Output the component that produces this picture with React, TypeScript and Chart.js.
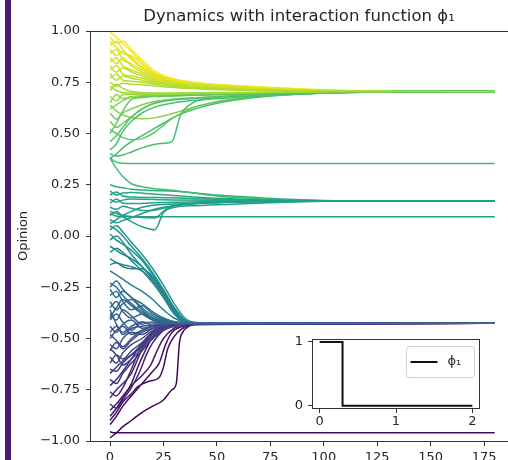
import React, { useEffect, useRef } from 'react';
import { Chart, registerables } from 'chart.js';

Chart.register(...registerables);

type Pt = [number, number];

const TITLE = 'Dynamics with interaction function ϕ₁';
const Y_LABEL = 'Opinion';
const X_TICKS = [0, 25, 50, 75, 100, 125, 150, 175];
const Y_TICKS = [-1, -0.75, -0.5, -0.25, 0, 0.25, 0.5, 0.75, 1];

// Agents ending in the upper cluster (~0.705)
const HIGH_GROUP: Pt[][] = [
  [[0, 0.995], [3, 0.97], [6, 0.94], [10, 0.9], [15, 0.845], [20, 0.8], [25, 0.778], [30, 0.765], [40, 0.748], [65, 0.73], [100, 0.713], [140, 0.705], [180, 0.705]],
  [[0, 0.97], [3, 0.94], [6, 0.95], [10, 0.91], [15, 0.86], [20, 0.81], [25, 0.782], [30, 0.766], [40, 0.747], [65, 0.729], [100, 0.712], [140, 0.705], [180, 0.705]],
  [[0, 0.95], [3, 0.92], [6, 0.89], [10, 0.88], [15, 0.84], [20, 0.795], [25, 0.774], [30, 0.76], [40, 0.745], [65, 0.727], [100, 0.711], [140, 0.705], [180, 0.705]],
  [[0, 0.93], [3, 0.95], [6, 0.91], [10, 0.86], [15, 0.82], [20, 0.785], [25, 0.768], [30, 0.756], [40, 0.742], [65, 0.725], [100, 0.71], [140, 0.705], [180, 0.705]],
  [[0, 0.91], [3, 0.88], [6, 0.9], [10, 0.87], [15, 0.825], [20, 0.79], [25, 0.77], [30, 0.757], [40, 0.741], [65, 0.724], [100, 0.71], [140, 0.705], [180, 0.705]],
  [[0, 0.89], [3, 0.91], [6, 0.86], [10, 0.84], [15, 0.81], [20, 0.78], [25, 0.763], [30, 0.752], [40, 0.738], [65, 0.722], [100, 0.709], [140, 0.705], [180, 0.705]],
  [[0, 0.87], [3, 0.84], [6, 0.87], [10, 0.83], [15, 0.8], [20, 0.775], [25, 0.76], [30, 0.75], [40, 0.736], [65, 0.72], [100, 0.709], [140, 0.705], [180, 0.705]],
  [[0, 0.85], [3, 0.87], [6, 0.83], [10, 0.81], [15, 0.79], [20, 0.768], [25, 0.755], [30, 0.746], [40, 0.733], [65, 0.718], [100, 0.708], [140, 0.705], [180, 0.705]],
  [[0, 0.83], [3, 0.8], [6, 0.82], [10, 0.8], [15, 0.78], [20, 0.762], [25, 0.75], [30, 0.742], [40, 0.73], [65, 0.716], [100, 0.708], [140, 0.705], [180, 0.705]],
  [[0, 0.81], [3, 0.83], [6, 0.79], [10, 0.78], [15, 0.77], [20, 0.755], [25, 0.745], [30, 0.738], [40, 0.727], [65, 0.714], [100, 0.707], [140, 0.705], [180, 0.705]],
  [[0, 0.79], [3, 0.76], [6, 0.78], [10, 0.77], [15, 0.76], [20, 0.748], [25, 0.74], [30, 0.734], [40, 0.725], [65, 0.713], [100, 0.707], [140, 0.705], [180, 0.705]],
  [[0, 0.77], [3, 0.79], [6, 0.76], [10, 0.755], [15, 0.75], [20, 0.742], [25, 0.736], [30, 0.73], [40, 0.722], [65, 0.712], [100, 0.707], [140, 0.705], [180, 0.705]],
  [[0, 0.75], [3, 0.73], [6, 0.745], [10, 0.74], [15, 0.738], [20, 0.733], [25, 0.728], [30, 0.724], [40, 0.718], [65, 0.71], [100, 0.706], [140, 0.705], [180, 0.705]],
  [[0, 0.71], [3, 0.74], [6, 0.72], [10, 0.705], [20, 0.698], [40, 0.698], [65, 0.7], [100, 0.703], [140, 0.705], [180, 0.705]],
  [[0, 0.68], [3, 0.66], [6, 0.69], [10, 0.692], [20, 0.692], [40, 0.694], [65, 0.698], [100, 0.702], [140, 0.705], [180, 0.705]],
  [[0, 0.65], [3, 0.69], [6, 0.67], [10, 0.68], [20, 0.686], [40, 0.69], [65, 0.695], [100, 0.701], [140, 0.705], [180, 0.705]],
  [[0, 0.62], [3, 0.64], [6, 0.66], [10, 0.675], [20, 0.683], [40, 0.688], [65, 0.694], [100, 0.7], [140, 0.705], [180, 0.705]],
  [[0, 0.64], [3, 0.61], [6, 0.59], [10, 0.578], [15, 0.572], [20, 0.575], [25, 0.585], [30, 0.6], [40, 0.63], [50, 0.655], [65, 0.675], [80, 0.688], [100, 0.697], [140, 0.704], [180, 0.705]],
  [[0, 0.6], [3, 0.57], [6, 0.6], [10, 0.62], [15, 0.64], [20, 0.655], [30, 0.665], [40, 0.672], [65, 0.685], [100, 0.698], [140, 0.705], [180, 0.705]],
  [[0, 0.5], [3, 0.55], [6, 0.61], [10, 0.665], [15, 0.675], [20, 0.68], [40, 0.686], [65, 0.692], [100, 0.7], [140, 0.705], [180, 0.705]],
  [[0, 0.56], [3, 0.53], [6, 0.55], [10, 0.58], [15, 0.62], [20, 0.645], [25, 0.66], [30, 0.668], [40, 0.675], [65, 0.687], [100, 0.699], [140, 0.705], [180, 0.705]],
  [[0, 0.4], [3, 0.39], [6, 0.395], [10, 0.41], [15, 0.43], [20, 0.445], [25, 0.452], [29, 0.46], [33, 0.59], [38, 0.645], [45, 0.67], [65, 0.685], [100, 0.698], [140, 0.705], [180, 0.705]],
  [[0, 0.38], [3, 0.4], [6, 0.43], [10, 0.46], [15, 0.49], [20, 0.52], [25, 0.55], [30, 0.58], [40, 0.62], [50, 0.648], [65, 0.672], [80, 0.686], [100, 0.697], [140, 0.704], [180, 0.705]],
  [[0, 0.52], [3, 0.5], [6, 0.48], [10, 0.47], [15, 0.475], [20, 0.5], [25, 0.54], [30, 0.58], [40, 0.63], [50, 0.655], [65, 0.677], [100, 0.698], [140, 0.705], [180, 0.705]],
  [[0, 0.46], [3, 0.49], [6, 0.53], [10, 0.58], [15, 0.62], [20, 0.645], [25, 0.657], [30, 0.665], [40, 0.672], [65, 0.686], [100, 0.699], [140, 0.705], [180, 0.705]],
  [[0, 0.42], [3, 0.45], [6, 0.51], [10, 0.56], [15, 0.6], [20, 0.625], [25, 0.64], [30, 0.65], [40, 0.662], [65, 0.68], [100, 0.697], [140, 0.705], [180, 0.705]],
  [[0, 0.73], [3, 0.71], [6, 0.7], [10, 0.697], [20, 0.695], [40, 0.697], [65, 0.7], [100, 0.703], [140, 0.705], [180, 0.705]],
];

// Lone agents that stay apart
const LONE_LINES: Pt[][] = [
  [[0, 0.38], [2, 0.365], [5, 0.356], [10, 0.354], [180, 0.354]],
  [[0, 0.11], [2, 0.1], [5, 0.095], [10, 0.094], [180, 0.094]],
  [[0, -0.955], [2, -0.96], [180, -0.96]],
];

// Agents ending in the middle cluster (~0.171)
const MID_GROUP: Pt[][] = [
  [[0, 0.25], [3, 0.24], [6, 0.235], [10, 0.228], [20, 0.222], [30, 0.218], [40, 0.21], [50, 0.2], [65, 0.19], [80, 0.18], [100, 0.173], [130, 0.171], [180, 0.171]],
  [[0, 0.38], [3, 0.33], [6, 0.29], [10, 0.255], [15, 0.24], [20, 0.232], [30, 0.222], [40, 0.208], [50, 0.195], [65, 0.184], [80, 0.176], [100, 0.172], [130, 0.171], [180, 0.171]],
  [[0, 0.22], [3, 0.2], [6, 0.21], [10, 0.212], [20, 0.205], [30, 0.198], [40, 0.19], [50, 0.184], [65, 0.178], [80, 0.174], [100, 0.172], [180, 0.171]],
  [[0, 0.2], [3, 0.215], [6, 0.195], [10, 0.19], [20, 0.188], [30, 0.186], [40, 0.182], [65, 0.176], [100, 0.172], [180, 0.171]],
  [[0, 0.18], [3, 0.165], [6, 0.175], [10, 0.18], [20, 0.178], [30, 0.176], [50, 0.174], [80, 0.172], [180, 0.171]],
  [[0, 0.16], [3, 0.18], [6, 0.16], [10, 0.158], [20, 0.162], [30, 0.165], [50, 0.168], [80, 0.17], [180, 0.171]],
  [[0, 0.12], [3, 0.11], [6, 0.1], [10, 0.095], [15, 0.09], [21, 0.088], [25, 0.12], [30, 0.15], [40, 0.16], [50, 0.164], [65, 0.168], [100, 0.17], [180, 0.171]],
  [[0, 0.1], [3, 0.12], [6, 0.095], [10, 0.07], [15, 0.045], [21, 0.03], [25, 0.115], [30, 0.14], [40, 0.148], [50, 0.152], [65, 0.158], [80, 0.165], [100, 0.17], [180, 0.171]],
  [[0, 0.08], [3, 0.065], [6, 0.075], [10, 0.09], [15, 0.11], [20, 0.128], [25, 0.14], [30, 0.148], [40, 0.157], [50, 0.162], [65, 0.167], [100, 0.17], [180, 0.171]],
  [[0, 0.06], [3, 0.08], [6, 0.1], [10, 0.12], [15, 0.14], [20, 0.15], [30, 0.156], [40, 0.16], [50, 0.163], [65, 0.167], [100, 0.17], [180, 0.171]],
  [[0, 0.14], [3, 0.13], [6, 0.145], [10, 0.135], [15, 0.125], [20, 0.125], [25, 0.135], [30, 0.148], [40, 0.158], [50, 0.163], [65, 0.167], [100, 0.17], [180, 0.171]],
];

// Agents ending in the lower cluster (~-0.426): rising purple agents
const LOW_RISE: Pt[][] = [
  [[0, -0.985], [3, -0.96], [6, -0.93], [10, -0.9], [15, -0.86], [20, -0.83], [25, -0.8], [29, -0.75], [31, -0.72], [32.5, -0.52], [34, -0.47], [37, -0.44], [42, -0.428], [180, -0.426]],
  [[0, -0.9], [3, -0.86], [6, -0.81], [10, -0.77], [13, -0.735], [18, -0.71], [23, -0.69], [25, -0.64], [27, -0.55], [30, -0.49], [34, -0.45], [40, -0.43], [180, -0.426]],
  [[0, -0.92], [3, -0.88], [6, -0.83], [10, -0.78], [15, -0.72], [20, -0.66], [23, -0.62], [26, -0.53], [29, -0.47], [34, -0.44], [40, -0.428], [180, -0.426]],
  [[0, -0.85], [3, -0.82], [6, -0.78], [10, -0.73], [15, -0.68], [19, -0.63], [22, -0.56], [25, -0.5], [30, -0.45], [36, -0.43], [180, -0.426]],
  [[0, -0.82], [3, -0.84], [6, -0.8], [10, -0.74], [14, -0.66], [17, -0.58], [20, -0.52], [25, -0.46], [30, -0.435], [36, -0.427], [180, -0.426]],
  [[0, -0.79], [3, -0.75], [6, -0.72], [10, -0.67], [13, -0.6], [16, -0.53], [20, -0.47], [25, -0.44], [32, -0.428], [180, -0.426]],
  [[0, -0.76], [3, -0.78], [6, -0.74], [10, -0.65], [14, -0.55], [17, -0.5], [22, -0.455], [28, -0.435], [35, -0.427], [180, -0.426]],
  [[0, -0.73], [3, -0.7], [6, -0.66], [10, -0.6], [15, -0.52], [20, -0.47], [25, -0.445], [32, -0.43], [180, -0.426]],
  [[0, -0.7], [3, -0.72], [6, -0.67], [10, -0.62], [15, -0.56], [20, -0.5], [25, -0.46], [30, -0.44], [38, -0.428], [180, -0.426]],
  [[0, -0.88], [3, -0.84], [6, -0.79], [10, -0.72], [13, -0.64], [16, -0.57], [19, -0.51], [24, -0.46], [30, -0.437], [38, -0.427], [180, -0.426]],
  [[0, -0.67], [3, -0.64], [6, -0.61], [10, -0.58], [15, -0.54], [20, -0.49], [25, -0.455], [30, -0.435], [180, -0.426]],
];

// Lower cluster: descending teal agents
const LOW_FALL: Pt[][] = [
  [[0, 0.05], [3, 0.03], [6, 0.0], [10, -0.05], [15, -0.11], [20, -0.18], [25, -0.26], [30, -0.35], [35, -0.41], [40, -0.424], [50, -0.426], [180, -0.426]],
  [[0, 0.03], [3, 0.05], [6, 0.02], [10, -0.03], [15, -0.09], [20, -0.16], [25, -0.24], [30, -0.33], [35, -0.4], [40, -0.422], [50, -0.426], [180, -0.426]],
  [[0, 0.01], [3, -0.02], [6, -0.04], [10, -0.07], [15, -0.12], [20, -0.19], [25, -0.27], [30, -0.36], [35, -0.412], [42, -0.425], [180, -0.426]],
  [[0, -0.02], [3, 0.0], [6, -0.03], [10, -0.09], [15, -0.15], [20, -0.21], [25, -0.29], [30, -0.375], [35, -0.417], [42, -0.425], [180, -0.426]],
  [[0, -0.05], [3, -0.07], [6, -0.09], [10, -0.11], [15, -0.15], [20, -0.21], [25, -0.28], [30, -0.36], [35, -0.41], [42, -0.425], [180, -0.426]],
  [[0, -0.08], [3, -0.06], [6, -0.08], [10, -0.12], [15, -0.17], [20, -0.23], [25, -0.3], [30, -0.38], [35, -0.418], [42, -0.425], [180, -0.426]],
  [[0, -0.11], [3, -0.13], [6, -0.14], [10, -0.15], [15, -0.17], [20, -0.22], [25, -0.29], [30, -0.37], [35, -0.415], [42, -0.425], [180, -0.426]],
  [[0, -0.14], [3, -0.13], [6, -0.15], [10, -0.16], [15, -0.16], [20, -0.2], [25, -0.27], [30, -0.35], [35, -0.41], [42, -0.424], [180, -0.426]],
  [[0, -0.17], [3, -0.19], [6, -0.21], [10, -0.24], [15, -0.27], [20, -0.31], [25, -0.36], [30, -0.4], [36, -0.422], [45, -0.426], [180, -0.426]],
];

// Lower cluster: tangled blue agents
const LOW_MESH: Pt[][] = [
  [[0, -0.23], [3, -0.25], [6, -0.29], [10, -0.33], [15, -0.37], [20, -0.4], [25, -0.415], [30, -0.422], [38, -0.426], [180, -0.426]],
  [[0, -0.26], [3, -0.3], [6, -0.27], [10, -0.3], [15, -0.35], [20, -0.39], [25, -0.41], [30, -0.42], [38, -0.426], [180, -0.426]],
  [[0, -0.29], [3, -0.27], [6, -0.32], [10, -0.36], [15, -0.34], [20, -0.38], [25, -0.405], [30, -0.418], [38, -0.426], [180, -0.426]],
  [[0, -0.32], [3, -0.36], [6, -0.33], [10, -0.31], [15, -0.36], [20, -0.4], [25, -0.415], [30, -0.422], [38, -0.426], [180, -0.426]],
  [[0, -0.35], [3, -0.32], [6, -0.37], [10, -0.4], [15, -0.38], [20, -0.41], [25, -0.42], [30, -0.424], [38, -0.426], [180, -0.426]],
  [[0, -0.38], [3, -0.41], [6, -0.36], [10, -0.39], [15, -0.43], [20, -0.42], [25, -0.425], [35, -0.426], [180, -0.426]],
  [[0, -0.41], [3, -0.38], [6, -0.42], [10, -0.46], [15, -0.42], [20, -0.435], [25, -0.428], [35, -0.426], [180, -0.426]],
  [[0, -0.44], [3, -0.47], [6, -0.43], [10, -0.41], [15, -0.45], [20, -0.44], [25, -0.43], [35, -0.427], [45, -0.426], [180, -0.426]],
  [[0, -0.47], [3, -0.44], [6, -0.48], [10, -0.45], [15, -0.44], [20, -0.435], [25, -0.43], [35, -0.427], [45, -0.426], [180, -0.426]],
  [[0, -0.5], [3, -0.46], [6, -0.44], [10, -0.48], [15, -0.46], [20, -0.44], [25, -0.432], [30, -0.428], [40, -0.426], [180, -0.426]],
  [[0, -0.53], [3, -0.55], [6, -0.5], [10, -0.47], [15, -0.48], [20, -0.45], [25, -0.435], [30, -0.429], [40, -0.426], [180, -0.426]],
  [[0, -0.56], [3, -0.52], [6, -0.55], [10, -0.51], [15, -0.47], [20, -0.45], [25, -0.437], [30, -0.43], [40, -0.426], [180, -0.426]],
  [[0, -0.59], [3, -0.62], [6, -0.57], [10, -0.53], [15, -0.5], [20, -0.46], [25, -0.44], [30, -0.43], [40, -0.426], [180, -0.426]],
  [[0, -0.62], [3, -0.58], [6, -0.6], [10, -0.56], [15, -0.52], [20, -0.48], [25, -0.45], [30, -0.435], [40, -0.427], [180, -0.426]],
  [[0, -0.65], [3, -0.66], [6, -0.62], [10, -0.58], [15, -0.53], [20, -0.49], [25, -0.455], [30, -0.437], [40, -0.427], [180, -0.426]],
  [[0, -0.4], [3, -0.35], [6, -0.31], [10, -0.34], [15, -0.38], [20, -0.41], [25, -0.42], [30, -0.425], [180, -0.426]],
  [[0, -0.48], [3, -0.51], [6, -0.54], [10, -0.5], [15, -0.46], [20, -0.44], [25, -0.432], [30, -0.428], [180, -0.426]],
  [[0, -0.36], [3, -0.43], [6, -0.47], [10, -0.44], [15, -0.42], [20, -0.425], [30, -0.426], [180, -0.426]],
  [[0, -0.55], [3, -0.58], [6, -0.63], [10, -0.6], [15, -0.55], [20, -0.5], [25, -0.46], [30, -0.44], [40, -0.427], [180, -0.426]],
  [[0, -0.25], [3, -0.22], [6, -0.26], [10, -0.3], [15, -0.33], [20, -0.37], [25, -0.4], [30, -0.418], [38, -0.425], [180, -0.426]],
];

// Inset: interaction function
const PHI_R = [0, 0.3, 2];
const PHI_V = [1, 0, 0];
const INSET_X_TICKS = [0, 1, 2];
const INSET_Y_TICKS = [0, 1];
const LEGEND_LABEL = 'ϕ₁';

const FONT = 'DejaVu Sans';
const TEXT = '#262626';
const AXIS = '#333333';

const VIRIDIS = ['#440154', '#482475', '#414487', '#355f8d', '#2a788e', '#21918c', '#22a884', '#44bf70', '#7ad151', '#bddf26', '#fde725'];
function hexRgb(h: string) {
  return [parseInt(h.slice(1, 3), 16), parseInt(h.slice(3, 5), 16), parseInt(h.slice(5, 7), 16)];
}
function viridis(t: number) {
  const c = Math.max(0, Math.min(1, t)) * 10;
  const i = Math.min(9, Math.floor(c));
  const u = c - i;
  const a = hexRgb(VIRIDIS[i]);
  const b = hexRgb(VIRIDIS[i + 1]);
  const m = a.map((v, k) => Math.round(v + (b[k] - v) * u));
  return `rgb(${m[0]},${m[1]},${m[2]})`;
}

const fmtY = (v: number) => (v < 0 ? '\u2212' : '') + Math.abs(v).toFixed(2);

const topSpine = {
  id: 'topSpine',
  afterDraw(chart: any) {
    const { ctx, chartArea } = chart;
    ctx.save();
    ctx.strokeStyle = AXIS;
    ctx.lineWidth = 1;
    ctx.beginPath();
    const y = Math.round(chartArea.top) + 0.5;
    ctx.moveTo(chartArea.left, y);
    ctx.lineTo(chartArea.right, y);
    ctx.stroke();
    ctx.restore();
  },
};

const insetDecor = {
  id: 'insetDecor',
  beforeDraw(chart: any) {
    const { ctx, chartArea } = chart;
    ctx.save();
    ctx.fillStyle = '#ffffff';
    ctx.fillRect(chartArea.left, chartArea.top, chartArea.right - chartArea.left, chartArea.bottom - chartArea.top);
    ctx.restore();
  },
  afterDraw(chart: any) {
    const { ctx, chartArea } = chart;
    ctx.save();
    ctx.strokeStyle = AXIS;
    ctx.lineWidth = 1;
    const l = Math.round(chartArea.left) + 0.5;
    const t = Math.round(chartArea.top) + 0.5;
    const r = Math.round(chartArea.right) - 0.5;
    const b = Math.round(chartArea.bottom) - 0.5;
    ctx.strokeRect(l, t, r - l, b - t);
    // legend
    const ds = chart.data.datasets[0];
    const w = 68, h = 31;
    const bx = Math.round(chartArea.right) - 6 - w + 0.5;
    const by = Math.round(chartArea.top) + 7 + 0.5;
    ctx.beginPath();
    (ctx as any).roundRect(bx, by, w, h, 3);
    ctx.fillStyle = 'rgba(255,255,255,0.8)';
    ctx.fill();
    ctx.strokeStyle = '#d0d0d0';
    ctx.stroke();
    ctx.beginPath();
    ctx.strokeStyle = ds.borderColor;
    ctx.lineWidth = 2;
    const ly = by + h / 2;
    ctx.moveTo(bx + 4, ly);
    ctx.lineTo(bx + 31, ly);
    ctx.stroke();
    ctx.fillStyle = TEXT;
    ctx.font = `13px "${FONT}"`;
    ctx.textBaseline = 'middle';
    ctx.textAlign = 'left';
    ctx.fillText(ds.label, bx + 41, ly);
    ctx.restore();
  },
};

function toDataset(line: Pt[]) {
  return {
    data: line.map(([x, y]) => ({ x, y })),
    borderColor: viridis((line[0][1] + 1) / 2),
    borderWidth: 1.5,
    pointRadius: 0,
    fill: false,
    cubicInterpolationMode: 'monotone' as const,
  };
}

export default function App() {
  const mainRef = useRef<HTMLCanvasElement>(null);
  const insetRef = useRef<HTMLCanvasElement>(null);

  useEffect(() => {
    // plotting order (first = bottom); Chart.js draws dataset 0 on top, so reverse
    const ordered: Pt[][] = [
      ...LONE_LINES,
      ...HIGH_GROUP,
      ...MID_GROUP,
      ...LOW_RISE,
      ...LOW_FALL,
      ...LOW_MESH,
    ];
    const datasets = ordered.map(toDataset).reverse();

    const main = new Chart(mainRef.current as HTMLCanvasElement, {
      type: 'line',
      data: { datasets },
      options: {
        animation: false,
        responsive: false,
        layout: { padding: 0 },
        plugins: {
          legend: { display: false },
          tooltip: { enabled: false },
          title: {
            display: true,
            text: TITLE,
            fullSize: false,
            color: TEXT,
            font: { family: FONT, size: 16.5, weight: 'normal' },
            padding: { top: 7, bottom: 4.2 },
          },
        },
        scales: {
          x: {
            type: 'linear',
            min: -9.36,
            max: 186.2,
            afterBuildTicks: (s: any) => {
              s.ticks = X_TICKS.map((v) => ({ value: v }));
            },
            afterFit: (s: any) => {
              s.height = 19;
            },
            grid: { drawOnChartArea: false, drawTicks: true, tickLength: 5, tickColor: AXIS, tickWidth: 1 },
            border: { display: true, color: AXIS, width: 1 },
            ticks: { color: TEXT, font: { family: FONT, size: 13 }, padding: 4, maxRotation: 0, autoSkip: false, callback: (v: any) => String(v) },
          },
          y: {
            type: 'linear',
            min: -1,
            max: 1,
            afterBuildTicks: (s: any) => {
              s.ticks = Y_TICKS.map((v) => ({ value: v }));
            },
            afterFit: (s: any) => {
              s.width = 90;
            },
            grid: { drawOnChartArea: false, drawTicks: true, tickLength: 4, tickColor: AXIS, tickWidth: 1 },
            border: { display: true, color: AXIS, width: 1 },
            ticks: { color: TEXT, font: { family: FONT, size: 13 }, padding: 6, autoSkip: false, callback: (v: any) => fmtY(Number(v)) },
            title: { display: true, text: Y_LABEL, color: TEXT, font: { family: FONT, size: 13 }, padding: { top: 16, bottom: 0 } },
          },
        },
      } as any,
      plugins: [topSpine],
    });

    const inset = new Chart(insetRef.current as HTMLCanvasElement, {
      type: 'line',
      data: {
        datasets: [
          {
            label: LEGEND_LABEL,
            data: PHI_R.map((r, i) => ({ x: r, y: PHI_V[i] })),
            borderColor: '#111111',
            borderWidth: 2,
            pointRadius: 0,
            fill: false,
            stepped: true,
          },
        ],
      },
      options: {
        animation: false,
        responsive: false,
        layout: { padding: { top: 8, right: 2, left: 0, bottom: 0 } },
        plugins: { legend: { display: false }, tooltip: { enabled: false }, title: { display: false } },
        scales: {
          x: {
            type: 'linear',
            min: -0.1,
            max: 2.1,
            afterBuildTicks: (s: any) => {
              s.ticks = INSET_X_TICKS.map((v) => ({ value: v }));
            },
            afterFit: (s: any) => {
              s.height = 23;
            },
            grid: { drawOnChartArea: false, drawTicks: true, tickLength: 4, tickColor: AXIS, tickWidth: 1 },
            border: { display: false },
            ticks: { color: TEXT, font: { family: FONT, size: 13 }, padding: 1, maxRotation: 0, autoSkip: false, callback: (v: any) => String(v) },
          },
          y: {
            type: 'linear',
            min: -0.05,
            max: 1.05,
            afterBuildTicks: (s: any) => {
              s.ticks = INSET_Y_TICKS.map((v) => ({ value: v }));
            },
            afterFit: (s: any) => {
              s.width = 30;
            },
            grid: { drawOnChartArea: false, drawTicks: true, tickLength: 4, tickColor: AXIS, tickWidth: 1 },
            border: { display: false },
            ticks: { color: TEXT, font: { family: FONT, size: 13 }, padding: 5, autoSkip: false, callback: (v: any) => String(v) },
          },
        },
      } as any,
      plugins: [insetDecor],
    });

    return () => {
      main.destroy();
      inset.destroy();
    };
  }, []);

  return (
    <div style={{ position: 'absolute', left: 0, top: 0, width: 508, height: 460, background: '#ffffff', overflow: 'hidden' }}>
      <canvas ref={mainRef} width={508} height={460} style={{ position: 'absolute', left: 0, top: 0 }} />
      <canvas ref={insetRef} width={200} height={106} style={{ position: 'absolute', left: 282, top: 326 }} />
      <div style={{ position: 'absolute', left: 5, top: 0, width: 6, height: 460, background: '#4b1d70' }} />
    </div>
  );
}
